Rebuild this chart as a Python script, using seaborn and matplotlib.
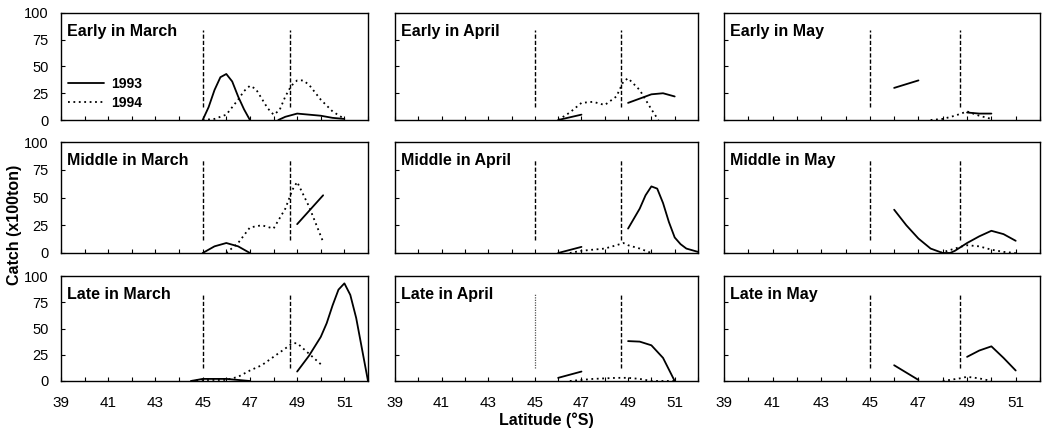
import matplotlib
matplotlib.use("Agg")
import matplotlib.pyplot as plt
from matplotlib.lines import Line2D
import pandas as pd
import seaborn as sns

# ---------------- data ----------------
months = ["March", "April", "May"]
periods = ["Early", "Middle", "Late"]
years = ["1993", "1994"]
front_lats = [45.0, 48.7]          # vertical dashed reference lines
front_range = [12, 84]
x_ticks = list(range(39, 53))
y_ticks = [0, 25, 50, 75, 100]

# each series is a list of segments: (latitudes, catch x100 ton)
early_mar_1993 = [([45, 45.25, 45.5, 45.75, 46, 46.25, 46.5, 46.75, 47],
                   [0, 12, 28, 40, 43, 36, 22, 10, 0]),
                  ([48.2, 48.5, 49, 49.5, 50, 50.5, 51], [0, 3, 6, 5, 4, 2, 1])]
early_mar_1994 = [([45, 45.5, 46, 46.5, 46.75, 47, 47.25, 47.5, 47.75, 48, 48.25,
                    48.5, 48.75, 49, 49.25, 49.5, 50, 50.5, 51],
                   [0, 1, 5, 19, 27, 32, 29, 20, 11, 5, 9, 22, 32, 37, 37, 33, 19, 8, 1])]
mid_mar_1993 = [([45, 45.5, 46, 46.5, 47], [0, 6, 9, 6, 0]),
                ([49, 50.1], [26, 52])]
mid_mar_1994 = [([46, 46.5, 47, 47.5, 48, 48.5, 48.8, 49, 49.5, 50.1],
                 [0, 9, 23, 25, 22, 40, 57, 64, 42, 10])]
late_mar_1993 = [([44.5, 45, 45.5, 46, 46.5, 47], [0, 2, 2, 2, 1, 0]),
                 ([49, 49.5, 50, 50.25, 50.5, 50.75, 51, 51.25, 51.5, 51.75, 52],
                  [9, 24, 42, 55, 72, 87, 93, 82, 60, 30, 0])]
late_mar_1994 = [([44.5, 45, 45.5, 46, 46.5, 47, 47.5, 48, 48.5, 48.8, 49, 49.5, 50.1],
                  [0, 1, 1, 1, 4, 10, 15, 23, 31, 36, 36, 26, 14])]

early_apr_1993 = [([46, 47], [0, 5]),
                  ([49, 49.5, 50, 50.5, 51], [16, 20, 24, 25, 22])]
early_apr_1994 = [([46, 46.5, 47, 47.5, 48, 48.5, 48.8, 49, 49.5, 50, 50.3],
                   [0, 7, 16, 17, 14, 22, 36, 39, 28, 10, 0])]
mid_apr_1993 = [([46, 47], [0, 5.5]),
                ([49, 49.5, 49.75, 50, 50.25, 50.5, 50.75, 51, 51.25, 51.5, 52],
                 [22, 40, 52, 60, 58, 45, 28, 14, 8, 4, 1])]
mid_apr_1994 = [([46.5, 47, 47.5, 48, 48.5, 48.8, 49, 49.5, 50],
                 [0, 2, 3, 4, 7, 9, 7, 4, 0])]
late_apr_1993 = [([46, 47], [3, 9]),
                 ([49, 49.5, 50, 50.5, 51], [38, 37.5, 34, 22, 0])]
late_apr_1994 = [([46.5, 47, 47.5, 48, 48.5, 49, 49.5, 50, 51],
                  [0, 1, 2, 2.5, 3, 3, 2, 0, 0])]

early_may_1993 = [([46, 47], [30, 37]),
                  ([49, 49.5, 50], [7, 6, 6])]
early_may_1994 = [([47.5, 48, 48.5, 49, 49.5, 50], [0, 1, 4, 8, 4, 1])]
mid_may_1993 = [([46, 46.5, 47, 47.5, 48, 48.3, 48.5, 49, 49.5, 50, 50.5, 51],
                 [39, 25, 13, 4, 0, 0, 2, 9, 15, 20, 17, 11])]
mid_may_1994 = [([47.9, 48.5, 48.8, 49, 49.5, 50, 50.5, 51],
                 [0, 4, 6, 7, 6, 3, 1, 0])]
late_may_1993 = [([46, 47], [15, 1]),
                 ([49, 49.5, 50, 50.5, 51], [23, 29, 33, 22, 10])]
late_may_1994 = [([48, 48.7, 49, 49.5, 50], [0, 2.5, 4, 2.5, 0])]

series = {
    ("Early", "March"): (early_mar_1993, early_mar_1994),
    ("Middle", "March"): (mid_mar_1993, mid_mar_1994),
    ("Late", "March"): (late_mar_1993, late_mar_1994),
    ("Early", "April"): (early_apr_1993, early_apr_1994),
    ("Middle", "April"): (mid_apr_1993, mid_apr_1994),
    ("Late", "April"): (late_apr_1993, late_apr_1994),
    ("Early", "May"): (early_may_1993, early_may_1994),
    ("Middle", "May"): (mid_may_1993, mid_may_1994),
    ("Late", "May"): (late_may_1993, late_may_1994),
}

rows = []
for (per, mon), (s93, s94) in series.items():
    for yr, segs in zip(years, (s93, s94)):
        for k, (lats, vals) in enumerate(segs):
            for la, v in zip(lats, vals):
                rows.append(dict(period=per, month=mon, year=yr, seg=k, lat=la, catch=v))
df = pd.DataFrame(rows)

# ---------------- style ----------------
sns.set_style("white")
plt.rcParams["font.family"] = ["Liberation Sans", "DejaVu Sans"]
plt.rcParams["text.color"] = "black"
plt.rcParams["axes.labelcolor"] = "black"
plt.rcParams["xtick.color"] = "black"
plt.rcParams["ytick.color"] = "black"

W, H = 1043, 433
fig, axes = plt.subplots(3, 3, figsize=(W / 100, H / 100), dpi=100)

col_px = [(61, 368), (395, 698), (724, 1040)]
row_px = [(13, 120), (142, 253), (276, 381)]

line_styles = {"1993": "-", "1994": (0, (1, 2))}

for r, per in enumerate(periods):
    for c, mon in enumerate(months):
        ax = axes[r, c]
        x0, x1 = col_px[c]
        y0, y1 = row_px[r]
        ax.set_position([x0 / W, 1 - y1 / H, (x1 - x0) / W, (y1 - y0) / H])

        sub = df[(df.period == per) & (df.month == mon)]
        for (yr, seg), g in sub.groupby(["year", "seg"]):
            sns.lineplot(data=g, x="lat", y="catch", ax=ax, color="black",
                         linewidth=1.3, linestyle=line_styles[yr],
                         estimator=None, sort=True, legend=False)

        for i, fl in enumerate(front_lats):
            if (per, mon) == ("Late", "April") and i == 0:
                ax.vlines(fl, *front_range, colors="#555555", linewidth=0.9,
                          linestyles=(0, (1, 1)))
            else:
                ax.vlines(fl, *front_range, colors="black", linewidth=1.0,
                          linestyles=(0, (3, 1.5)))

        ax.set_xlim(39, 52)
        ax.set_ylim(0, 100)
        ax.set_xlabel("")
        ax.set_ylabel("")
        ax.set_xticks(x_ticks)
        if r == 2:
            ax.set_xticklabels([str(t) if t % 2 == 1 else "" for t in x_ticks],
                               fontsize=11)
        else:
            ax.set_xticklabels([])
        ax.set_yticks(y_ticks)
        if c == 0:
            ax.set_yticklabels([str(t) for t in y_ticks], fontsize=10.5)
        else:
            ax.set_yticklabels([])
        ax.tick_params(direction="in", length=3, width=0.8, colors="black",
                       bottom=True, left=True, top=False, right=False, pad=9)
        ax.tick_params(axis="x", pad=11)
        for sp in ax.spines.values():
            sp.set_visible(True)
            sp.set_color("black")
            sp.set_linewidth(1.0)

        ax.text(0.02, 0.83 if r != 2 else 0.82, f"{per} in {mon}",
                transform=ax.transAxes, ha="left", va="center",
                fontsize=11.5, fontweight="bold", color="black")

        if r == 0 and c == 0:
            handles = [Line2D([], [], color="black", lw=1.3, linestyle=line_styles[y])
                       for y in years]
            leg = ax.legend(handles, years, loc="upper left",
                            bbox_to_anchor=(-0.01, 0.49), frameon=False,
                            prop=dict(weight="bold", size=10), handlelength=2.6,
                            handletextpad=0.5, labelspacing=0.35, borderpad=0.2)
            for t in leg.get_texts():
                t.set_color("black")

fig.text(15 / W, 1 - 225 / H, "Catch (x100ton)", rotation=90, ha="center",
         va="center", fontsize=11.5, fontweight="bold", color="black")
fig.text(546 / W, 1 - 420 / H, "Latitude (°S)", ha="center", va="center",
         fontsize=11.5, fontweight="bold", color="black")

fig.savefig("out.png", dpi=100, facecolor="white")
